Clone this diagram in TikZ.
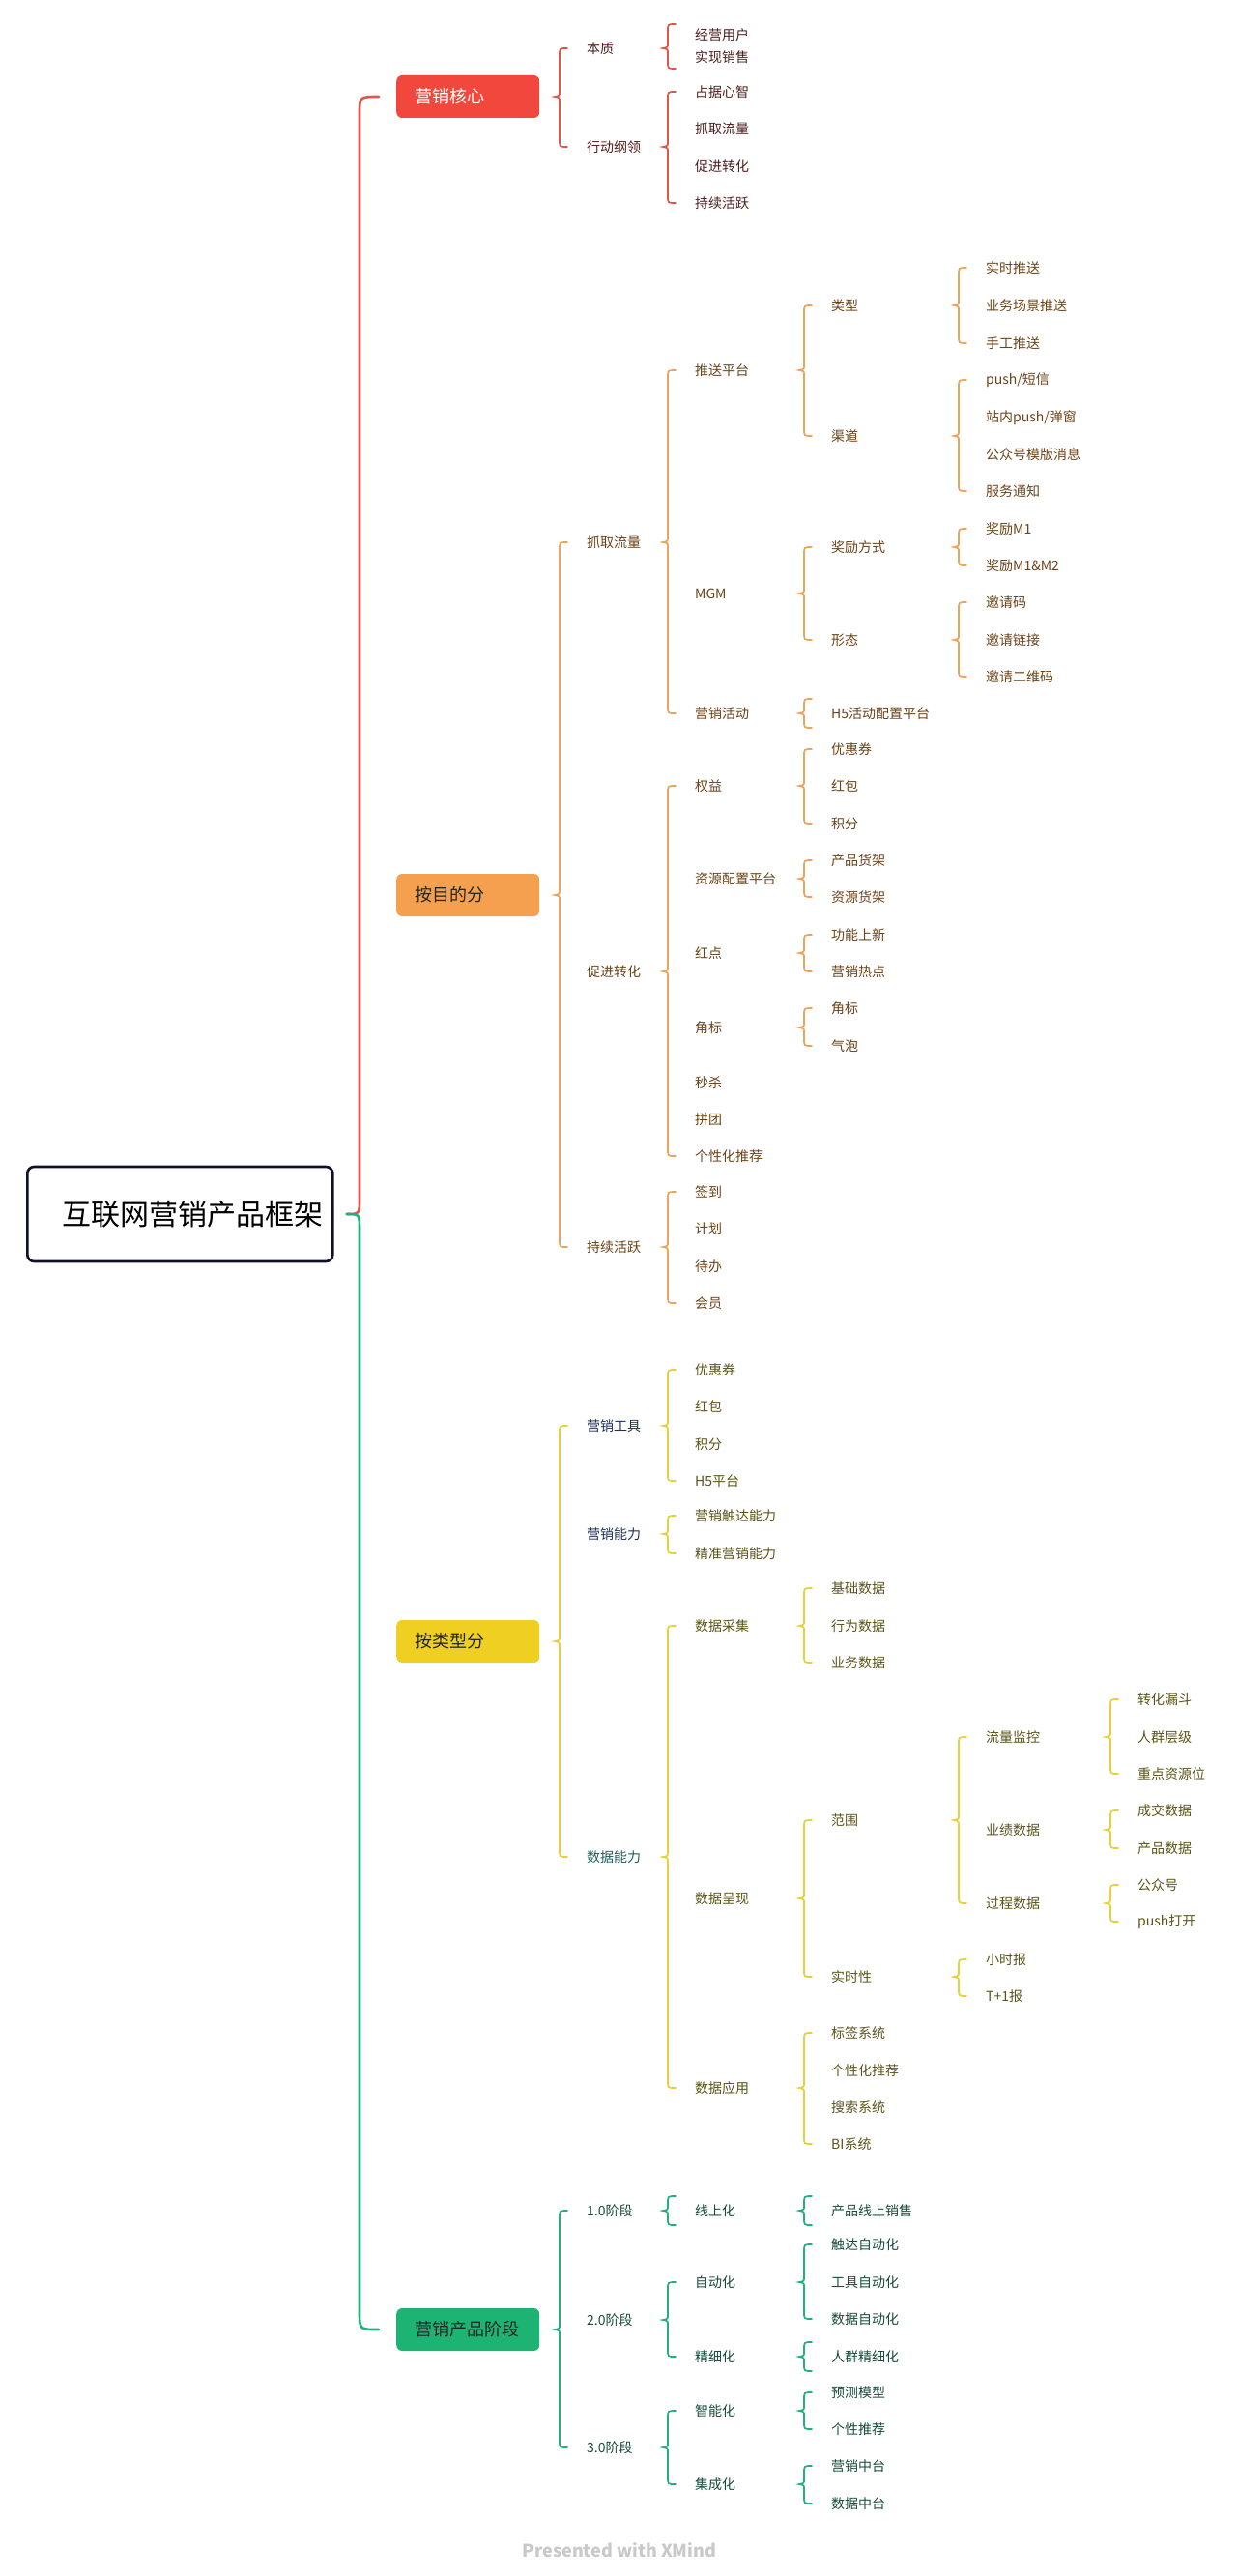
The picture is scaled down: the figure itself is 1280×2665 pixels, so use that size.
\documentclass[tikz,border=0pt]{standalone}
\usepackage{fontspec}
\newfontfamily\cjk{Noto Sans CJK SC}
\usetikzlibrary{calc}
\definecolor{coreRed}{HTML}{F2473D}
\definecolor{goalOrange}{HTML}{F4A04E}
\definecolor{typeYellow}{HTML}{EFD022}
\definecolor{stageGreen}{HTML}{1DB373}
\definecolor{coreLine}{HTML}{E2554B}
\definecolor{goalLine}{HTML}{EAA55C}
\definecolor{typeLine}{HTML}{E6D03C}
\definecolor{stageLine}{HTML}{22B07C}
\definecolor{coreText}{HTML}{4E1E1E}
\definecolor{goalText}{HTML}{6B4318}
\definecolor{typeText}{HTML}{5A5418}
\definecolor{toolText}{HTML}{1F2D5C}
\definecolor{dataText}{HTML}{1F5C5A}
\definecolor{stageText}{HTML}{174C3C}
\definecolor{rootNavy}{HTML}{0F0F2E}
\definecolor{markGray}{HTML}{C9C9C9}

% brace from parent #3 to children #4..#5, optional overhang #1
\newcommand{\xmbrace}[5][0]{%
 \draw[brc, #2] ($(#4.west)+(-20,-#1)$) .. controls ($(#4.west)+(-28,-#1)$) .. ($(#4.west)+(-28,-#1+7)$)
  -- ($(#4.west |- #3)+(-28,-5)$) .. controls ($(#4.west |- #3)+(-28,-1)$) .. ($(#4.west |- #3)+(-33,0)$)
  .. controls ($(#4.west |- #3)+(-28,1)$) .. ($(#4.west |- #3)+(-28,5)$)
  -- ($(#5.west)+(-28,#1-7)$) .. controls ($(#5.west)+(-28,#1)$) .. ($(#5.west)+(-20,#1)$);}

\begin{document}
\begin{tikzpicture}[x=1pt, y=-1pt,
 lbl/.style={anchor=west, inner sep=0pt, font=\cjk\fontsize{14}{16}\selectfont},
 redtxt/.style={lbl, text=coreText},
 orgtxt/.style={lbl, text=goalText},
 yeltxt/.style={lbl, text=typeText},
 grntxt/.style={lbl, text=stageText},
 topic/.style={anchor=west, rounded corners=6pt, minimum width=148pt, minimum height=44pt, text width=110pt, inner xsep=19pt, align=left, font=\cjk\fontsize{18}{20}\selectfont},
 brc/.style={line width=1.7pt, line cap=round},
 trunk/.style={line width=2.6pt, line cap=round}]
 \useasboundingbox[fill=white] (0,0) rectangle (1280,2665);

 % root and main topics
 \node[anchor=west, draw=rootNavy, line width=2.6pt, rounded corners=7pt, fill=white, minimum width=316pt, minimum height=98pt, text width=296pt, inner xsep=10pt, align=right, font=\cjk\fontsize{30}{34}\selectfont] (root) at (27,1256) {互联网营销产品框架};
 \node[topic, fill=coreRed, text=white] (k1) at (410,100) {营销核心};
 \node[topic, fill=goalOrange, text=black!85] (k2) at (410,926) {按目的分};
 \node[topic, fill=typeYellow, text=black!85] (k3) at (410,1698) {按类型分};
 \node[topic, fill=stageGreen, text=black!85] (k4) at (410,2410) {营销产品阶段};

 \draw[trunk, coreLine] ($(k1.west)+(-18,0)$) .. controls ($(k1.west)+(-38,0)$) .. ($(k1.west)+(-38,18)$)
  -- ($(k1.west |- root)+(-38,-16)$) .. controls ($(k1.west |- root)+(-38,0)$) .. ($(root.east)+(13,0)$);
 \draw[trunk, stageLine] ($(root.east)+(13,0)$) .. controls ($(k1.west |- root)+(-38,0)$) .. ($(k1.west |- root)+(-38,16)$)
  -- ($(k4.west)+(-38,-18)$) .. controls ($(k4.west)+(-38,0)$) .. ($(k4.west)+(-18,0)$);

 % 营销核心
 \node[redtxt] (a1) at (607,50) {本质};
 \node[redtxt] (a2) at (607,152) {行动纲领};
 \node[redtxt, align=left, font=\cjk\fontsize{14}{23}\selectfont] (a11) at (719,48) {经营用户\\实现销售};
 \foreach \n/\y/\t in {a21/95/占据心智, a22/133/抓取流量, a23/172/促进转化, a24/210/持续活跃}{
   \node[redtxt] (\n) at (719,\y) {\t};
 }
 \xmbrace{coreLine}{k1}{a1}{a2}
 \xmbrace[23]{coreLine}{a1}{a11}{a11}
 \xmbrace{coreLine}{a2}{a21}{a24}

 % 按目的分
 \node[orgtxt] (b1) at (607,561) {抓取流量};
 \node[orgtxt] (b2) at (607,1005) {促进转化};
 \node[orgtxt] (b3) at (607,1290) {持续活跃};
 \node[orgtxt] (b11) at (719,383) {推送平台};
 \node[orgtxt] (b12) at (719,614) {MGM};
 \node[orgtxt] (b13) at (719,738) {营销活动};
 \node[orgtxt] (b111) at (860,316) {类型};
 \node[orgtxt] (b112) at (860,451) {渠道};
 \node[orgtxt] (b121) at (860,566) {奖励方式};
 \node[orgtxt] (b122) at (860,662) {形态};
 \node[orgtxt] (b131) at (860,738) {H5活动配置平台};
 \foreach \n/\y/\t in {b1111/277/实时推送, b1112/316/业务场景推送, b1113/355/手工推送,
   b1121/393/{push/短信}, b1122/432/{站内push/弹窗}, b1123/470/公众号模版消息, b1124/508/服务通知,
   b1211/547/奖励M1, b1212/585/{奖励M1\&M2},
   b1221/623/邀请码, b1222/662/邀请链接, b1223/700/邀请二维码}{
   \node[orgtxt] (\n) at (1020,\y) {\t};
 }
 \foreach \n/\y/\t in {b21/813/权益, b22/909/资源配置平台, b23/986/红点, b24/1063/角标,
   b25/1120/秒杀, b26/1158/拼团, b27/1196/个性化推荐,
   b31/1233/签到, b32/1271/计划, b33/1310/待办, b34/1348/会员}{
   \node[orgtxt] (\n) at (719,\y) {\t};
 }
 \foreach \n/\y/\t in {b211/775/优惠券, b212/813/红包, b213/852/积分, b221/890/产品货架, b222/928/资源货架,
   b231/967/功能上新, b232/1005/营销热点, b241/1043/角标, b242/1082/气泡}{
   \node[orgtxt] (\n) at (860,\y) {\t};
 }
 \xmbrace{goalLine}{k2}{b1}{b3}
 \xmbrace{goalLine}{b1}{b11}{b13}
 \xmbrace{goalLine}{b11}{b111}{b112}
 \xmbrace{goalLine}{b111}{b1111}{b1113}
 \xmbrace{goalLine}{b112}{b1121}{b1124}
 \xmbrace{goalLine}{b12}{b121}{b122}
 \xmbrace{goalLine}{b121}{b1211}{b1212}
 \xmbrace{goalLine}{b122}{b1221}{b1223}
 \xmbrace[15]{goalLine}{b13}{b131}{b131}
 \xmbrace{goalLine}{b2}{b21}{b27}
 \xmbrace{goalLine}{b21}{b211}{b213}
 \xmbrace{goalLine}{b22}{b221}{b222}
 \xmbrace{goalLine}{b23}{b231}{b232}
 \xmbrace{goalLine}{b24}{b241}{b242}
 \xmbrace{goalLine}{b3}{b31}{b34}

 % 按类型分
 \node[lbl, text=toolText] (c1) at (607,1475) {营销工具};
 \node[lbl, text=toolText] (c2) at (607,1587) {营销能力};
 \node[lbl, text=dataText] (c3) at (607,1921) {数据能力};
 \foreach \n/\y/\t in {c11/1417/优惠券, c12/1455/红包, c13/1494/积分, c14/1532/H5平台,
   c21/1568/营销触达能力, c22/1607/精准营销能力,
   c31/1682/数据采集, c32/1964/数据呈现, c33/2160/数据应用}{
   \node[yeltxt] (\n) at (719,\y) {\t};
 }
 \foreach \n/\y/\t in {c311/1643/基础数据, c312/1682/行为数据, c313/1720/业务数据,
   c321/1883/范围, c322/2045/实时性,
   c331/2103/标签系统, c332/2142/个性化推荐, c333/2180/搜索系统, c334/2218/BI系统}{
   \node[yeltxt] (\n) at (860,\y) {\t};
 }
 \foreach \n/\y/\t in {c3211/1797/流量监控, c3212/1893/业绩数据, c3213/1969/过程数据,
   c3221/2027/小时报, c3222/2065/T+1报}{
   \node[yeltxt] (\n) at (1020,\y) {\t};
 }
 \foreach \n/\y/\t in {c32111/1758/转化漏斗, c32112/1797/人群层级, c32113/1835/重点资源位,
   c32121/1873/成交数据, c32122/1912/产品数据, c32131/1950/公众号, c32132/1988/push打开}{
   \node[yeltxt] (\n) at (1177,\y) {\t};
 }
 \xmbrace{typeLine}{k3}{c1}{c3}
 \xmbrace{typeLine}{c1}{c11}{c14}
 \xmbrace{typeLine}{c2}{c21}{c22}
 \xmbrace{typeLine}{c3}{c31}{c33}
 \xmbrace{typeLine}{c31}{c311}{c313}
 \xmbrace{typeLine}{c32}{c321}{c322}
 \xmbrace{typeLine}{c321}{c3211}{c3213}
 \xmbrace{typeLine}{c3211}{c32111}{c32113}
 \xmbrace{typeLine}{c3212}{c32121}{c32122}
 \xmbrace{typeLine}{c3213}{c32131}{c32132}
 \xmbrace{typeLine}{c322}{c3221}{c3222}
 \xmbrace{typeLine}{c33}{c331}{c334}

 % 营销产品阶段
 \foreach \n/\y/\t in {d1/2287/1.0阶段, d2/2400/2.0阶段, d3/2532/3.0阶段}{
   \node[grntxt] (\n) at (607,\y) {\t};
 }
 \foreach \n/\y/\t in {d11/2287/线上化, d21/2361/自动化, d22/2438/精细化, d31/2494/智能化, d32/2570/集成化}{
   \node[grntxt] (\n) at (719,\y) {\t};
 }
 \foreach \n/\y/\t in {d111/2287/产品线上销售, d211/2322/触达自动化, d212/2361/工具自动化, d213/2399/数据自动化,
   d221/2438/人群精细化, d311/2475/预测模型, d312/2513/个性推荐, d321/2551/营销中台, d322/2590/数据中台}{
   \node[grntxt] (\n) at (860,\y) {\t};
 }
 \xmbrace{stageLine}{k4}{d1}{d3}
 \xmbrace[15]{stageLine}{d1}{d11}{d11}
 \xmbrace[15]{stageLine}{d11}{d111}{d111}
 \xmbrace{stageLine}{d2}{d21}{d22}
 \xmbrace{stageLine}{d21}{d211}{d213}
 \xmbrace[15]{stageLine}{d22}{d221}{d221}
 \xmbrace{stageLine}{d3}{d31}{d32}
 \xmbrace{stageLine}{d31}{d311}{d312}
 \xmbrace{stageLine}{d32}{d321}{d322}

 \node[text=markGray, font=\cjk\bfseries\fontsize{18}{20}\selectfont, inner sep=0pt] (mark) at (641,2638) {Presented with XMind};
\end{tikzpicture}
\end{document}
